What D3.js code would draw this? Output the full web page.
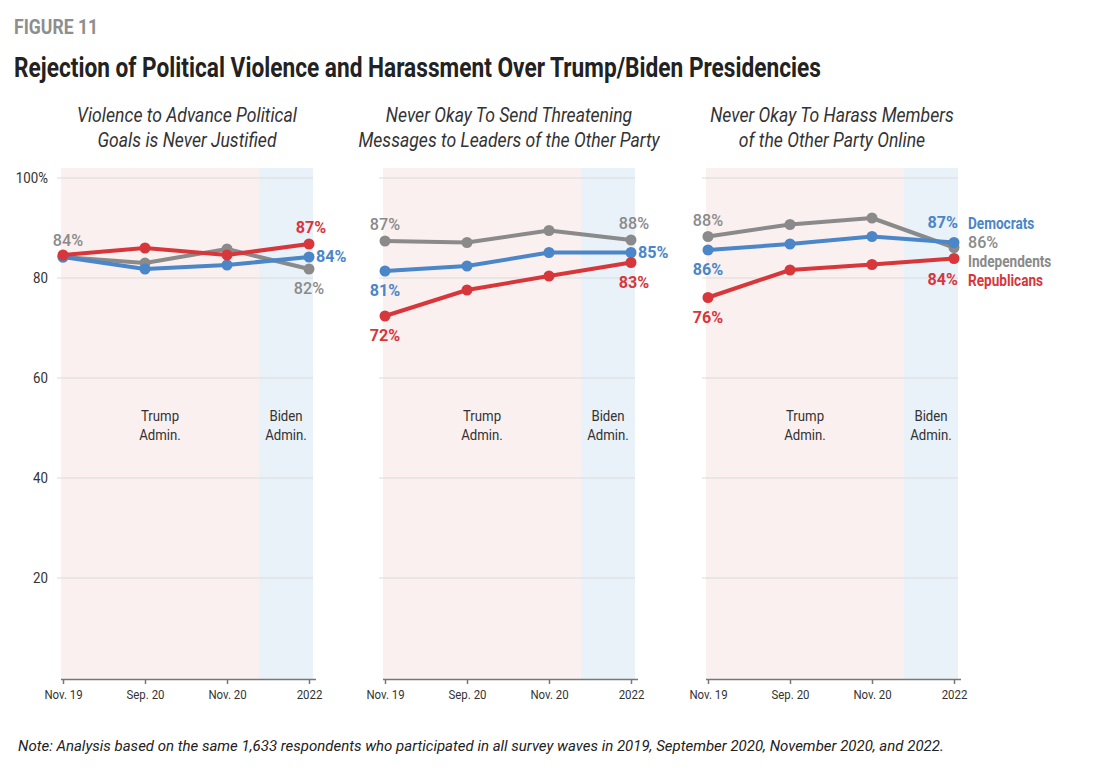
<!DOCTYPE html>
<html>
<head>
<meta charset="utf-8">
<script src="https://cdn.jsdelivr.net/npm/d3@7"></script>
<style>
  body { margin: 0; background: #fff; }
  svg { display: block; font-family: "Roboto", sans-serif; }
</style>
</head>
<body>
<svg id="chart"></svg>
<script>
// ---- data ----
const periods = ["Nov. 19", "Sep. 20", "Nov. 20", "2022"];
const panelTitles = [
  ["Violence to Advance Political", "Goals is Never Justified"],
  ["Never Okay To Send Threatening", "Messages to Leaders of the Other Party"],
  ["Never Okay To Harass Members", "of the Other Party Online"]
];
const independents = [
  [84.2, 83.0, 85.8, 81.8],
  [87.4, 87.1, 89.5, 87.6],
  [88.3, 90.7, 92.0, 86.1]
];
const democrats = [
  [84.2, 81.8, 82.6, 84.2],
  [81.4, 82.4, 85.1, 85.1],
  [85.6, 86.8, 88.3, 87.1]
];
const republicans = [
  [84.6, 86.0, 84.6, 86.8],
  [72.4, 77.6, 80.4, 83.1],
  [76.1, 81.6, 82.7, 83.9]
];
const yTicks = [20, 40, 60, 80, 100];
const seriesNames = ["Independents", "Democrats", "Republicans"];

const colors = {Independents: "#8a8a8a", Democrats: "#4a86c8", Republicans: "#d7373b"};
const seriesValues = {Independents: independents, Democrats: democrats, Republicans: republicans};

// which end labels show, and where they sit
const labelSpecs = [
  [
    {s: "Independents", i: 0, pos: "above", dx: 5},
    {s: "Republicans", i: 3, pos: "above", dx: 2},
    {s: "Democrats", i: 3, pos: "right"},
    {s: "Independents", i: 3, pos: "below"}
  ],
  [
    {s: "Independents", i: 0, pos: "above"},
    {s: "Democrats", i: 0, pos: "below"},
    {s: "Republicans", i: 0, pos: "below"},
    {s: "Independents", i: 3, pos: "above", dx: 3},
    {s: "Democrats", i: 3, pos: "right"},
    {s: "Republicans", i: 3, pos: "below", dx: 3}
  ],
  [
    {s: "Independents", i: 0, pos: "above"},
    {s: "Democrats", i: 0, pos: "below"},
    {s: "Republicans", i: 0, pos: "below"},
    {s: "Democrats", i: 3, pos: "aboveEnd"},
    {s: "Independents", i: 3, pos: "right", dx: 14, dy: 5},
    {s: "Republicans", i: 3, pos: "belowEnd"}
  ]
];

const W = 1119, H = 776;
const panelX = [63, 385, 708];
const panelW = 246;
const bidenStart = 2.39; // split between administrations on the x domain
const SX = 0.88; // horizontal squeeze to mimic the condensed face

const svg = d3.select("#chart").attr("width", W).attr("height", H);

// text helper: condensed look by scaling x around the anchor point
function label(parent, x, y, str, o = {}) {
  return parent.append("text")
    .attr("transform", `translate(${x},${y}) scale(${o.sx || SX},1)`)
    .attr("text-anchor", o.anchor || "start")
    .attr("font-size", o.size || 14)
    .attr("font-weight", o.weight || "normal")
    .attr("font-style", o.style || "normal")
    .attr("fill", o.fill || "#333")
    .text(str);
}

const y = d3.scaleLinear().domain([0, 100]).range([678, 178]);

// header
label(svg, 14, 34, "FIGURE 11", {size: 20, weight: "bold", fill: "#8e8e8e"});
label(svg, 14, 77, "Rejection of Political Violence and Harassment Over Trump/Biden Presidencies",
  {size: 27, weight: "bold", fill: "#222", sx: 0.84});

panelTitles.forEach((lines, p) => {
  const x = d3.scaleLinear().domain([0, 3]).range([panelX[p], panelX[p] + panelW]);
  const g = svg.append("g").attr("class", "panel");
  const left = x(0) - 2, right = x(3) + 4, split = x(bidenStart);

  // administration bands
  g.append("rect").attr("x", left).attr("y", 168).attr("width", split - left).attr("height", 511)
    .attr("fill", "#fbf0f0");
  g.append("rect").attr("x", split).attr("y", 168).attr("width", right - split).attr("height", 511)
    .attr("fill", "#e9f1f9");

  // gridlines
  g.selectAll(".grid").data(yTicks).join("line")
    .attr("class", "grid")
    .attr("x1", left - 4).attr("x2", right)
    .attr("y1", d => y(d)).attr("y2", d => y(d))
    .attr("stroke", "#dcdcdc").attr("stroke-width", 1.2);

  // band labels
  [["Trump", "Admin."], ["Biden", "Admin."]].forEach((words, b) => {
    const cx = b === 0 ? (left + split) / 2 : (split + right) / 2;
    words.forEach((w, k) => label(g, cx, 421 + k * 19, w, {size: 15, anchor: "middle"}));
  });

  // x axis
  const xAxis = d3.axisBottom(x).tickValues([0, 1, 2, 3])
    .tickFormat(i => periods[i]).tickSize(5).tickSizeOuter(0).tickPadding(6);
  const ax = g.append("g").attr("transform", "translate(0,679)").call(xAxis);
  ax.select(".domain").attr("stroke", "#777").attr("stroke-width", 1.5)
    .attr("d", `M${left},0.5H${right + 3}`);
  ax.selectAll(".tick line").attr("stroke", "#777").attr("stroke-width", 1.5);
  ax.selectAll(".tick text").attr("font-size", 13).attr("fill", "#333")
    .attr("font-family", "Roboto, sans-serif")
    .attr("transform", `scale(${SX},1)`);

  // panel title
  lines.forEach((l, k) => label(g, (left + right) / 2, 122 + k * 25, l,
    {size: 20, style: "italic", anchor: "middle"}));

  // lines and dots
  const line = d3.line().x((d, i) => x(i)).y(d => y(d));
  seriesNames.forEach(s => {
    const vals = seriesValues[s][p];
    g.append("path").datum(vals).attr("d", line)
      .attr("fill", "none").attr("stroke", colors[s]).attr("stroke-width", 4)
      .attr("stroke-linejoin", "round");
    g.selectAll(null).data(vals).join("circle")
      .attr("cx", (d, i) => x(i)).attr("cy", d => y(d)).attr("r", 5.5)
      .attr("fill", colors[s]);
  });

  // value labels
  labelSpecs[p].forEach(l => {
    const v = seriesValues[l.s][p][l.i];
    const px = x(l.i), py = y(v);
    let tx = px + (l.dx || 0), ty = py, anchor = "middle";
    if (l.pos === "above") ty = py - 11;
    if (l.pos === "below") ty = py + 25;
    if (l.pos === "right") { tx = px + (l.dx || 7); ty = py + 5 - (l.dy || 0); anchor = "start"; }
    if (l.pos === "aboveEnd") { tx = px + 4; ty = py - 15; anchor = "end"; }
    if (l.pos === "belowEnd") { tx = px + 4; ty = py + 26; anchor = "end"; }
    label(g, tx, ty, Math.round(v) + "%", {
      size: 17, sx: 0.95, anchor,
      weight: l.s === "Independents" ? 500 : "bold",
      fill: colors[l.s]
    });
  });

  // y axis labels on the first panel only
  if (p === 0) {
    yTicks.forEach(d => label(g, 48, y(d) + 5, d === 100 ? "100%" : d,
      {size: 14, anchor: "end", sx: 0.95}));
  }
});

// legend beside the last panel
const legendY = {Democrats: 229, Independents: 267, Republicans: 286};
["Democrats", "Independents", "Republicans"].forEach(s => {
  label(svg, 968, legendY[s], s, {size: 16, weight: "bold", fill: colors[s], sx: 0.85});
});

// note
label(svg, 18, 751,
  "Note: Analysis based on the same 1,633 respondents who participated in all survey waves in 2019, September 2020, November 2020, and 2022.",
  {size: 15, style: "italic", fill: "#222", sx: 1});
</script>
</body>
</html>
